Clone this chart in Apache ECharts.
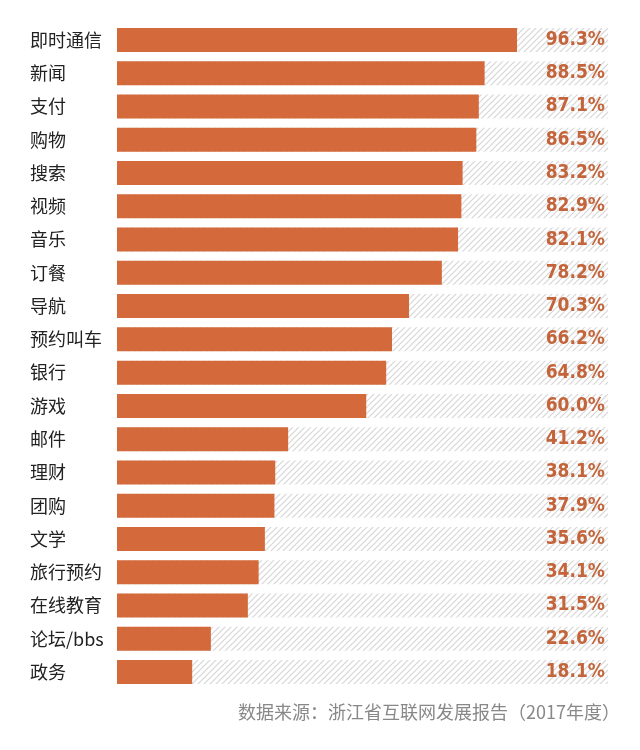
<!DOCTYPE html>
<html><head><meta charset="utf-8">
<script src="https://cdn.jsdelivr.net/npm/echarts@6/dist/echarts.min.js"></script>
<style>html,body{margin:0;padding:0;background:#fff}#c{width:640px;height:750px}</style>
</head><body><div id="c"></div>
<script>
const categories = ['即时通信','新闻','支付','购物','搜索','视频','音乐','订餐','导航','预约叫车','银行','游戏','邮件','理财','团购','文学','旅行预约','在线教育','论坛/bbs','政务'];
const values = [96.3,88.5,87.1,86.5,83.2,82.9,82.1,78.2,70.3,66.2,64.8,60.0,41.2,38.1,37.9,35.6,34.1,31.5,22.6,18.1];
const sourceText = '数据来源：浙江省互联网发展报告（2017年度）';
const axisMax = 118.2;

const tile = document.createElement('canvas');
tile.width = 6; tile.height = 6;
const g = tile.getContext('2d');
g.fillStyle = '#ffffff'; g.fillRect(0,0,6,6);
g.strokeStyle = '#d6d6d6'; g.lineWidth = 1.2;
g.beginPath();
g.moveTo(-1,7); g.lineTo(7,-1);
g.moveTo(-4,4); g.lineTo(4,-4);
g.moveTo(2,10); g.lineTo(10,2);
g.stroke();

const chart = echarts.init(document.getElementById('c'));
chart.setOption({
  animation:false,
  grid:{left:117,right:32,top:23.4,bottom:61.4},
  xAxis:{type:'value',min:0,max:axisMax,show:false},
  yAxis:{type:'category',data:categories,inverse:true,
    axisLine:{show:false},axisTick:{show:false},
    axisLabel:{align:'left',margin:87,fontSize:18,color:'#222',fontFamily:'Noto Sans CJK SC'}},
  series:[
    {type:'bar',data:categories.map(()=>axisMax),barWidth:24,barGap:'-100%',silent:true,
     itemStyle:{color:{image:tile,repeat:'repeat'}},
     label:{show:true,position:'insideRight',distance:3,
       formatter:p=>values[p.dataIndex].toFixed(1)+'%',
       fontFamily:'"DejaVu Sans Condensed", "Liberation Sans", sans-serif',fontWeight:'bold',fontSize:19,color:'#c4643a'}},
    {type:'bar',data:values,barWidth:24,itemStyle:{color:'#d4693b'}}
  ],
  graphic:[{type:'text',right:20,top:703,style:{text:sourceText,fontSize:18,fill:'#888',fontFamily:'Noto Sans CJK SC'}}]
});
</script></body></html>
